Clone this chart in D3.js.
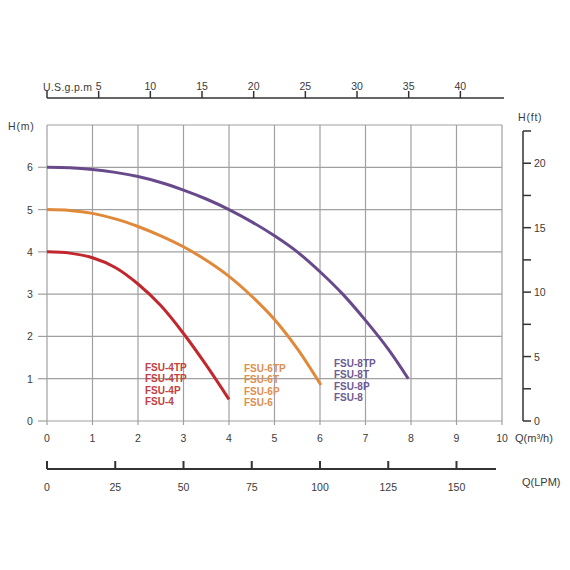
<!DOCTYPE html>
<html><head><meta charset="utf-8">
<script src="https://cdn.jsdelivr.net/npm/d3@7"></script>
<style>body{margin:0;background:#fff}svg{display:block}text{font-family:"Liberation Sans",Arial,sans-serif}</style>
</head><body>
<script>
const qTicks = [0,1,2,3,4,5,6,7,8,9,10];
const hTicks = [0,1,2,3,4,5,6];
const gpmTicks = [5,10,15,20,25,30,35,40];
const lpmTicks = [0,25,50,75,100,125,150];
const ftTicks = [0,2.5,5,7.5,10,12.5,15,17.5,20,22.5];
const ftLabels = [0,5,10,15,20];

const fsu4 = [[0,4.0],[0.5,3.97],[1,3.86],[1.5,3.63],[2,3.24],[2.5,2.73],[3,2.07],[3.5,1.32],[4,0.51]];
const fsu6 = [[0,5.0],[0.5,4.98],[1,4.91],[1.5,4.78],[2,4.6],[2.5,4.38],[3,4.12],[3.5,3.8],[4,3.42],[4.5,2.95],[5,2.4],[5.5,1.71],[6.02,0.85]];
const fsu8 = [[0,6.0],[0.5,5.99],[1,5.95],[1.5,5.88],[2,5.78],[2.5,5.64],[3,5.46],[3.5,5.25],[4,5.0],[4.5,4.71],[5,4.38],[5.5,4.0],[6,3.53],[6.5,3.0],[7,2.38],[7.5,1.7],[7.94,1.0]];

const labels4 = ["FSU-4TP","FSU-4TP","FSU-4P","FSU-4"];
const labels6 = ["FSU-6TP","FSU-6T","FSU-6P","FSU-6"];
const labels8 = ["FSU-8TP","FSU-8T","FSU-8P","FSU-8"];

const W=570,H=570;
const svg=d3.select("body").append("svg").attr("width",W).attr("height",H);
const x=d3.scaleLinear([0,10],[47,502]);
const y=d3.scaleLinear([0,7],[421,125]);
const xg=d3.scaleLinear([0,10*4.4029],[47,502]);
const xl=d3.scaleLinear([0,10*1000/60],[47,502]);
const yf=d3.scaleLinear([0,7*3.28084],[421,125]);

const grid="#a0a0a0", dark="#333", txt="#3a3a3a";

const g=svg.append("g");
g.selectAll(".v").data(qTicks).join("line")
 .attr("x1",d=>x(d)).attr("x2",d=>x(d)).attr("y1",y(7)).attr("y2",y(0)+4)
 .attr("stroke",grid).attr("stroke-width",1.2);
g.selectAll(".h").data(d3.range(0,8)).join("line")
 .attr("x1",x(0)).attr("x2",x(10)).attr("y1",d=>y(d)).attr("y2",d=>y(d))
 .attr("stroke",grid).attr("stroke-width",1.2);
g.selectAll(".lt").data(hTicks).join("line")
 .attr("x1",x(0)-9).attr("x2",x(0)).attr("y1",d=>y(d)).attr("y2",d=>y(d))
 .attr("stroke",grid).attr("stroke-width",1.2);
svg.selectAll(".ll").data(hTicks).join("text")
 .attr("x",30).attr("y",d=>y(d)+4).attr("text-anchor","middle")
 .attr("font-size",10.5).attr("fill",txt).text(d=>d);
svg.append("text").attr("x",8).attr("y",130).attr("font-size",10.5).attr("fill",txt)
 .attr("letter-spacing",0.8).text("H(m)");

svg.selectAll(".bl").data(qTicks).join("text")
 .attr("x",d=>x(d)).attr("y",442).attr("text-anchor","middle")
 .attr("font-size",10.5).attr("fill",txt).text(d=>d);
svg.append("text").attr("x",515).attr("y",442).attr("font-size",11).attr("fill",txt)
 .text("Q(m³/h)");

const ty=98;
svg.append("line").attr("x1",47).attr("x2",504).attr("y1",ty).attr("y2",ty)
 .attr("stroke",dark).attr("stroke-width",1.5);
svg.selectAll(".gt").data([0].concat(gpmTicks)).join("line")
 .attr("x1",d=>xg(d)).attr("x2",d=>xg(d)).attr("y1",ty-7).attr("y2",ty)
 .attr("stroke",dark).attr("stroke-width",1.5);
svg.selectAll(".gl").data(gpmTicks).join("text")
 .attr("x",d=>xg(d)).attr("y",90).attr("text-anchor","middle")
 .attr("font-size",10.5).attr("fill",txt).text(d=>d);
svg.append("text").attr("x",43).attr("y",91).attr("font-size",10.5).attr("fill",txt)
 .attr("letter-spacing",0.3).text("U.S.g.p.m");

const rx=523;
svg.append("line").attr("x1",rx).attr("x2",rx).attr("y1",yf(22.5)).attr("y2",yf(0))
 .attr("stroke",dark).attr("stroke-width",1.5);
svg.selectAll(".ft").data(ftTicks).join("line")
 .attr("x1",rx).attr("x2",rx+8).attr("y1",d=>yf(d)).attr("y2",d=>yf(d))
 .attr("stroke",dark).attr("stroke-width",1.5);
svg.selectAll(".fl").data(ftLabels).join("text")
 .attr("x",rx+11).attr("y",d=>yf(d)+4).attr("font-size",10.5).attr("fill",txt).text(d=>d);
svg.append("text").attr("x",518).attr("y",121).attr("font-size",10.5).attr("fill",txt)
 .attr("letter-spacing",0.8).text("H(ft)");

const ly=469;
svg.append("line").attr("x1",47).attr("x2",496).attr("y1",ly).attr("y2",ly)
 .attr("stroke",dark).attr("stroke-width",2.2);
svg.selectAll(".lpt").data(lpmTicks).join("line")
 .attr("x1",d=>xl(d)).attr("x2",d=>xl(d)).attr("y1",ly-8).attr("y2",ly)
 .attr("stroke",dark).attr("stroke-width",2);
svg.selectAll(".lpl").data(lpmTicks).join("text")
 .attr("x",d=>xl(d)).attr("y",491).attr("text-anchor","middle")
 .attr("font-size",10.5).attr("fill",txt).text(d=>d);
svg.append("text").attr("x",522).attr("y",486).attr("font-size",11).attr("fill",txt)
 .text("Q(LPM)");

const line=d3.line().x(d=>x(d[0])).y(d=>y(d[1])).curve(d3.curveCatmullRom.alpha(0.5));
[[fsu4,"#c1272d"],[fsu6,"#e0893a"],[fsu8,"#684a8c"]].forEach(([d,c])=>{
  svg.append("path").attr("d",line(d)).attr("fill","none").attr("stroke",c)
   .attr("stroke-width",3).attr("stroke-linecap","butt");
});

function lab(arr,x0,y0,c){
  svg.selectAll(null).data(arr).join("text")
   .attr("x",x0).attr("y",(d,i)=>y0+i*11.3).attr("font-size",10).attr("font-weight","bold")
   .attr("fill",c).text(d=>d);
}
lab(labels4,145,371,"#c2403f");
lab(labels6,244,372,"#dd8f50");
lab(labels8,334,367,"#6e5a92");
</script>
</body></html>
